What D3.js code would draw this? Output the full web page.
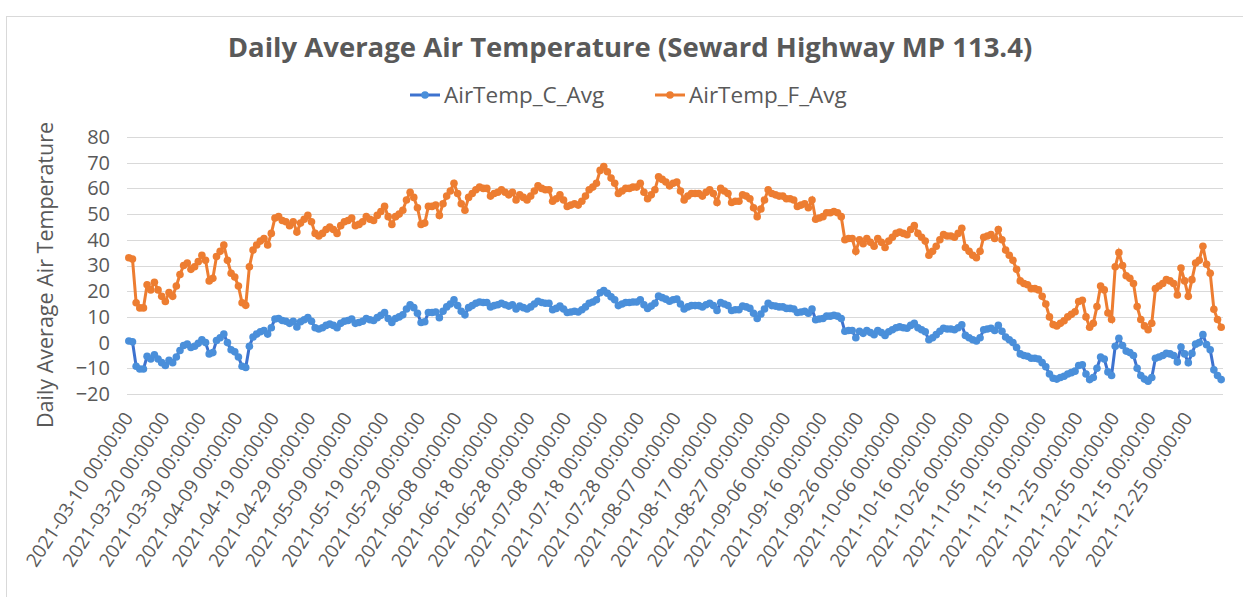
<!DOCTYPE html>
<html>
<head>
<meta charset="utf-8">
<script src="https://cdn.jsdelivr.net/npm/d3@7"></script>
<style>
  body { margin: 0; background: #fff; }
  svg { display: block; font-family: "Open Sans", sans-serif; }
</style>
</head>
<body>
<div id="chart"></div>
<script>
// daily series, one value per day starting 2021-03-10
const startDate = "2021-03-10";

const airTempF = [
  33,32.5,15.5,13.5,13.5,22.5,20.5,23.5,20.5,18,
  16,19.5,18,22,26.5,30,31,28.5,29.5,31.5,
  34,32,24,25,33.5,35.5,38,32,27,25.5,
  22,15.5,14.5,29.5,36,38,39.5,40.5,38,42.5,
  48.5,49,47.5,47,45.5,47,43,46.5,48,49.5,
  47,42.5,41.5,42.5,44,45,44,42.5,45.5,47,
  47.5,48.5,45.5,46,47,49,48,47.5,49.5,51,
  53,49,46,49,50,51.5,55.5,58.5,56.5,52.5,
  46,46.5,53,53,53.5,49.5,54,57,59,62,
  58,54,51.5,56.5,58,59.5,60.5,60,60,57,
  58,58.5,59.5,58.5,57.5,58.5,55.5,57.5,56.5,55.5,
  57,59,61,60,59.5,59.5,55,56,57.5,55.5,
  53,53.5,54,53.5,55,57,59.5,60.5,62,67,
  68.5,66.5,64,62,58,59,60,60,60.5,60.5,
  62,58.5,56,57.5,59.5,64.5,63.5,62.5,61,62,
  62.5,59,55.5,57,58,58,58,57,58.5,59.5,
  58,54.5,60,59,58,54.5,55,55,57.5,57,
  56,52.5,49,52,55.5,59.5,58,57.5,57,57,
  56,56,55.5,53,53.5,54,52.5,55.5,48,48.5,
  49,50.5,50.5,51,50.5,49,40,40.5,40.5,35.5,
  40,38.5,40.5,39,37.5,40.5,39,37,39.5,41,
  42.5,43,42.5,42,44,45.5,42.5,41,39.5,34,
  35.5,37.5,40,42,41.5,41.5,41,42.5,44.5,37,
  35.5,34,33,35.5,41,41.5,42,40.5,44,40,
  36,34,32,28.5,24,23,22.5,21,21,20.5,
  18,15,10,7,6.5,7.5,8.5,10,11,12,
  16,16.5,10,6,7.5,14,22,20.5,11.5,9,
  29.5,35,30,26,25,23,14,9,6.5,5,
  7.5,21,22,23,24.5,24,23,18.5,29,24,
  18,24.5,31,32,37.5,30.5,27,13,9,6
];

const airTempC = [
  0.6,0.3,-9.2,-10.3,-10.3,-5.3,-6.4,-4.7,-6.4,-7.8,
  -8.9,-6.9,-7.8,-5.6,-3.1,-1.1,-0.6,-1.9,-1.4,-0.3,
  1.1,0,-4.4,-3.9,0.8,1.9,3.3,0,-2.8,-3.6,
  -5.6,-9.2,-9.7,-1.4,2.2,3.3,4.2,4.7,3.3,5.8,
  9.2,9.4,8.6,8.3,7.5,8.3,6.1,8.1,8.9,9.7,
  8.3,5.8,5.3,5.8,6.7,7.2,6.7,5.8,7.5,8.3,
  8.6,9.2,7.5,7.8,8.3,9.4,8.9,8.6,9.7,10.6,
  11.7,9.4,7.8,9.4,10,10.8,13.1,14.7,13.6,11.4,
  7.8,8.1,11.7,11.7,11.9,9.7,12.2,13.9,15,16.7,
  14.4,12.2,10.8,13.6,14.4,15.3,15.8,15.6,15.6,13.9,
  14.4,14.7,15.3,14.7,14.2,14.7,13.1,14.2,13.6,13.1,
  13.9,15,16.1,15.6,15.3,15.3,12.8,13.3,14.2,13.1,
  11.7,11.9,12.2,11.9,12.8,13.9,15.3,15.8,16.7,19.4,
  20.3,19.2,17.8,16.7,14.4,15,15.6,15.6,15.8,15.8,
  16.7,14.7,13.3,14.2,15.3,18.1,17.5,16.9,16.1,16.7,
  16.9,15,13.1,13.9,14.4,14.4,14.4,13.9,14.7,15.3,
  14.4,12.5,15.6,15,14.4,12.5,12.8,12.8,14.2,13.9,
  13.3,11.4,9.4,11.1,13.1,15.3,14.4,14.2,13.9,13.9,
  13.3,13.3,13.1,11.7,11.9,12.2,11.4,13.1,8.9,9.2,
  9.4,10.3,10.3,10.6,10.3,9.4,4.4,4.7,4.7,1.9,
  4.4,3.6,4.7,3.9,3.1,4.7,3.9,2.8,4.2,5,
  5.8,6.1,5.8,5.6,6.7,7.5,5.8,5,4.2,1.1,
  1.9,3.1,4.4,5.6,5.3,5.3,5,5.8,6.9,2.8,
  1.9,1.1,0.6,1.9,5,5.3,5.6,4.7,6.7,4.4,
  2.2,1.1,0,-1.9,-4.4,-5,-5.3,-6.1,-6.1,-6.4,
  -7.8,-9.4,-12.2,-13.9,-14.2,-13.6,-13.1,-12.2,-11.7,-11.1,
  -8.9,-8.6,-12.2,-14.4,-13.6,-10,-5.6,-6.4,-11.4,-12.8,
  -1.4,1.7,-1.1,-3.3,-3.9,-5,-10,-12.8,-14.2,-15,
  -13.6,-6.1,-5.6,-5,-4.2,-4.4,-5,-7.5,-1.7,-4.4,
  -7.8,-4.2,-0.6,0,3.1,-0.8,-2.8,-10.6,-12.8,-14.4
];

const yTicks = [-20, -10, 0, 10, 20, 30, 40, 50, 60, 70, 80];
const seriesNames = ["AirTemp_C_Avg", "AirTemp_F_Avg"];

// category labels, one per day
var parse = d3.timeParse("%Y-%m-%d");
var fmt = d3.timeFormat("%Y-%m-%d %H:%M:%S");
var categories = airTempF.map((d, i) => fmt(d3.timeDay.offset(parse(startDate), i)));

var width = 1243,
    height = 597;
var plotLeft = 127, plotRight = 1223, plotTop = 137, plotBottom = 394;
var textColor = "#595959";

var svg = d3.select("#chart")
    .append("svg")
    .attr("width", width)
    .attr("height", height);

// chart frame
svg.append("rect")
    .attr("x", 6.5).attr("y", 16.5)
    .attr("width", 1300).attr("height", 700)
    .attr("fill", "none")
    .attr("stroke", "#d9d9d9");

var x = d3.scaleBand()
    .domain(categories)
    .range([plotLeft, plotRight]);

var y = d3.scaleLinear()
    .domain([-20, 80])
    .range([plotBottom, plotTop]);

// gridlines
svg.append("g")
    .selectAll("line")
    .data(yTicks)
    .enter()
    .append("line")
    .attr("x1", plotLeft).attr("x2", plotRight)
    .attr("y1", d => Math.round(y(d)) + 0.5)
    .attr("y2", d => Math.round(y(d)) + 0.5)
    .attr("stroke", "#d9d9d9")
    .attr("stroke-width", 1);

// y axis labels
var yAxis = svg.append("g")
    .attr("transform", `translate(${plotLeft},0)`)
    .call(d3.axisLeft(y).tickValues(yTicks).tickSize(0).tickPadding(17));
yAxis.select(".domain").remove();
yAxis.selectAll("text")
    .attr("fill", textColor)
    .style("font-size", "20px")
    .style("font-family", "Open Sans");

// x axis labels, every 10th day
var xAxis = svg.append("g")
    .attr("transform", `translate(0,${plotBottom})`)
    .call(d3.axisBottom(x)
        .tickValues(categories.filter((d, i) => i % 10 === 0))
        .tickSize(0));
xAxis.select(".domain").remove();
xAxis.selectAll("text")
    .attr("fill", textColor)
    .attr("y", 0)
    .attr("dy", 0)
    .attr("text-anchor", "end")
    .attr("transform", "translate(5,24) rotate(-57)")
    .style("font-size", "19px")
    .style("font-family", "Open Sans");

var series = [
    {name: seriesNames[0], values: airTempC, line: "#3d72cf", fill: "#4a8fda"},
    {name: seriesNames[1], values: airTempF, line: "#ed7d31", fill: "#ed7d31"}
];

var line = d3.line()
    .x((d, i) => x(categories[i]) + x.bandwidth() / 2)
    .y(d => y(d));

series.forEach(function(s) {
    var g = svg.append("g");
    g.append("path")
        .datum(s.values)
        .attr("d", line)
        .attr("fill", "none")
        .attr("stroke", s.line)
        .attr("stroke-width", 3);
    g.selectAll("circle")
        .data(s.values)
        .enter()
        .append("circle")
        .attr("cx", (d, i) => x(categories[i]) + x.bandwidth() / 2)
        .attr("cy", d => y(d))
        .attr("r", 3.8)
        .attr("fill", s.fill);
});

// title
svg.append("text")
    .attr("x", 630)
    .attr("y", 57)
    .attr("text-anchor", "middle")
    .attr("fill", textColor)
    .style("font-size", "27.5px")
    .style("font-weight", "bold")
    .text("Daily Average Air Temperature (Seward Highway MP 113.4)");

// y axis title
svg.append("text")
    .attr("transform", "translate(53,275) rotate(-90)")
    .attr("text-anchor", "middle")
    .attr("fill", textColor)
    .style("font-size", "21.5px")
    .text("Daily Average Air Temperature");

// legend
var legendX = [410, 655];
series.forEach(function(s, i) {
    var lg = svg.append("g").attr("transform", `translate(${legendX[i]},95)`);
    lg.append("line")
        .attr("x1", 0).attr("x2", 30)
        .attr("stroke", s.line).attr("stroke-width", 3);
    lg.append("circle")
        .attr("cx", 15).attr("r", 3.8).attr("fill", s.fill);
    lg.append("text")
        .attr("x", 34).attr("y", 8)
        .attr("fill", textColor)
        .style("font-size", "22.5px")
        .text(s.name);
});
</script>
</body>
</html>
